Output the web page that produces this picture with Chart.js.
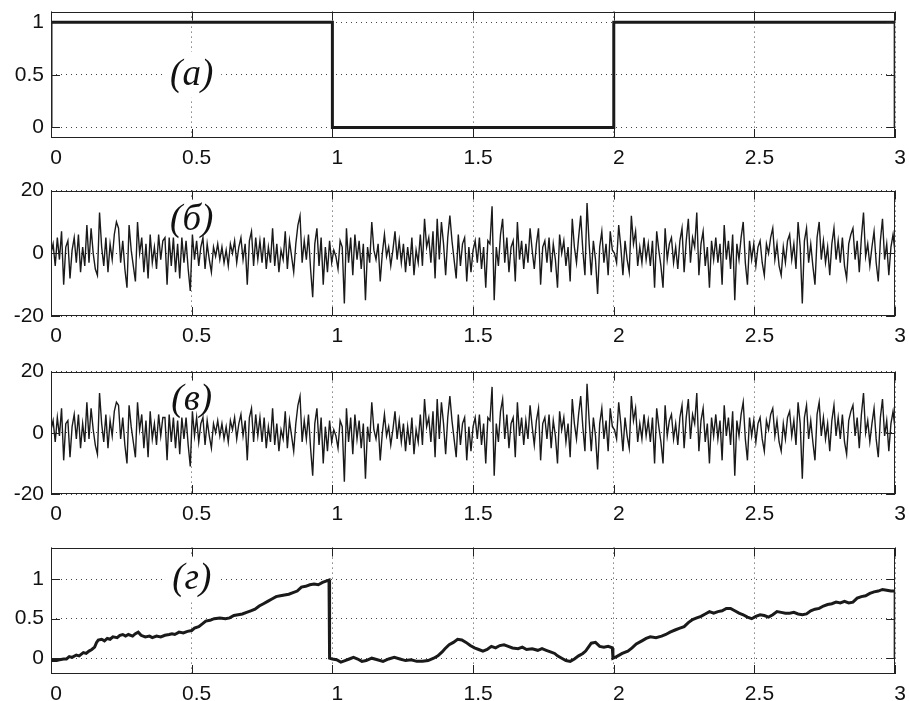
<!DOCTYPE html>
<html>
<head>
<meta charset="utf-8">
<script src="https://cdn.jsdelivr.net/npm/chart.js@4.4.1/dist/chart.umd.min.js"></script>
<style>
  body { margin: 0; background: #fff; }
  #wrap { position: relative; width: 909px; height: 701px; overflow: hidden; background: #fff; }
  #wrap canvas { position: absolute; left: 0; }
</style>
</head>
<body>
<div id="wrap">
  <canvas id="pa"></canvas>
  <canvas id="pb"></canvas>
  <canvas id="pv"></canvas>
  <canvas id="pg"></canvas>
</div>
<script>
// x ticks shared by all panels
const timeTicks = [0, 0.5, 1, 1.5, 2, 2.5, 3];

// (а) control signal
const squareT = [0, 0, 1, 1, 2, 2, 3, 3];
const squareV = [0, 1, 1, 0, 0, 1, 1, 0];
const ticksA = [0, 0.5, 1];

// (б) noise, equally spaced samples over 0..3
const noiseB = [
  0, 3, -4, 5, -2, 7, -10, 2, 4, -8, 1, 5, -3, 6, -6, 2, -4, 9, -3, 8,
  0, -5, -7, 13, 2, -4, 5, -6, 3, -2, 6, 10, 8, -3, 4, -5, -11, 9, 1, -4,
  -9, 10, 0, 5, -6, 3, -8, 6, -3, 2, -5, 6, -2, 4, 5, -10, 5, -4, 5, -6,
  3, -8, 5, -3, 4, -5, -12, 6, -2, 4, -4, 2, 5, -5, 3, -2, -6, 2, -1, 3,
  -2, 2, -3, 1, -4, 3, 0, 4, -3, 2, 5, -2, 3, -10, 4, 7, -4, 5, -2, 4,
  -3, 5, -5, 2, -3, 8, -4, 3, -6, 1, -2, 7, -5, 4, -1, -6, 3, 9, 12, -3,
  4, -2, 6, -5, -14, 3, 8, -4, 5, -10, 2, -6, 4, -3, 1, -1, -5, 4, 2, -16,
  8, -3, 5, -7, 6, -2, 4, -5, 3, -15, 2, -3, 10, 1, -2, 3, -9, 0, 6, -1,
  2, -4, 1, 7, -2, 4, -3, 3, -6, 2, -4, 5, -7, 1, -3, 6, -4, 11, 2, 5,
  -3, 7, -8, 11, -2, 10, 3, -7, 5, 12, 4, -2, -8, 6, -4, 3, 5, -9, 2, -6,
  1, 4, -3, 5, -5, 2, -11, 4, 3, 15, -15, 2, -4, 6, 11, -3, 5, -6, 2, 4,
  -9, 10, -2, 4, -5, 3, -3, 8, 1, -5, 3, 8, -10, 2, 4, -3, 5, -6, 3, -2,
  -11, 6, 0, 4, -4, 2, -9, 11, 2, -3, 5, 12, 1, -7, 16, 3, -7, 4, -2, -13,
  2, 7, -3, 3, -7, 7, 1, 0, -3, 9, 2, -7, 4, -2, -6, 12, 3, 7, -4, 2,
  -3, 5, -2, 3, -4, 4, -11, 7, 1, -4, -11, 8, -2, 3, 5, -3, 2, -5, 4, 8,
  -6, 4, 11, -3, 5, 2, 13, -7, 3, 7, -4, 2, -11, 4, -2, 5, -3, 3, -10, 9,
  -2, 4, -5, 6, -15, 3, -2, 5, 10, -3, -10, 4, -2, 3, -4, 2, 4, -3, -7, 3,
  0, 5, 8, -2, 3, -4, -7, 2, -3, 4, 6, -2, 3, -5, 10, 2, -16, 4, 8, -3,
  3, -4, -10, 5, 10, -2, 4, -3, 2, -7, 3, 8, -2, 4, -3, 5, -4, -8, 3, 6,
  8, -2, 4, -6, 5, 13, -1, 3, -4, 2, 7, -3, -9, 4, 11, -2, 3, -7, 2, 6,
  0
];

// (в) signal plus noise
const noiseV = [
  1, 4, -3, 5, -1, 8, -9, 3, 4, -8, 2, 6, -2, 6, -5, 3, -3, 10, -2, 8,
  1, -4, -7, 13, 3, -3, 6, -5, 4, -1, 7, 10, 9, -2, 5, -4, -10, 9, 2, -3,
  -8, 10, 1, 6, -5, 4, -8, 7, -2, 3, -4, 6, -1, 5, 5, -9, 6, -3, 5, -5,
  4, -7, 5, -2, 5, -4, -11, 7, -1, 5, -3, 3, 5, -4, 4, -1, -5, 3, 0, 4,
  -1, 3, -2, 2, -3, 4, 1, 5, -2, 3, 6, -1, 4, -9, 5, 8, -3, 6, -1, 5,
  -3, 5, -5, 2, -3, 8, -4, 3, -6, 1, -2, 7, -5, 4, -1, -6, 3, 9, 12, -3,
  4, -2, 6, -5, -14, 3, 8, -4, 5, -10, 2, -6, 4, -3, 1, -1, -5, 4, 2, -16,
  8, -3, 5, -7, 6, -2, 4, -5, 3, -15, 2, -3, 10, 1, -2, 3, -9, 0, 6, -1,
  2, -4, 1, 7, -2, 4, -3, 3, -6, 2, -4, 5, -7, 1, -3, 6, -4, 11, 2, 5,
  -3, 7, -8, 11, -2, 10, 3, -7, 5, 12, 4, -2, -8, 6, -4, 3, 5, -9, 2, -6,
  2, 5, -2, 6, -4, 3, -10, 5, 4, 15, -14, 3, -3, 7, 11, -2, 6, -5, 3, 5,
  -8, 10, -1, 5, -4, 4, -2, 9, 2, -4, 4, 8, -9, 3, 5, -2, 6, -5, 4, -1,
  -10, 7, 1, 5, -3, 3, -8, 11, 3, -2, 6, 12, 2, -6, 16, 4, -6, 5, -1, -12,
  3, 8, -2, 4, -6, 8, 2, 1, -2, 10, 3, -6, 5, -1, -5, 12, 4, 8, -3, 3,
  -2, 6, -1, 4, -3, 5, -10, 8, 2, -3, -10, 9, -1, 4, 6, -2, 3, -4, 5, 9,
  -5, 5, 11, -2, 6, 3, 13, -6, 4, 8, -3, 3, -10, 5, -1, 6, -2, 4, -9, 9,
  -1, 5, -4, 7, -14, 4, -1, 6, 10, -2, -9, 5, -1, 4, -3, 3, 5, -2, -6, 4,
  1, 6, 8, -1, 4, -3, -6, 3, -2, 5, 7, -1, 4, -4, 10, 3, -15, 5, 9, -2,
  4, -3, -9, 6, 10, -1, 5, -2, 3, -6, 4, 9, -1, 5, -2, 6, -3, -7, 4, 7,
  9, -1, 5, -5, 6, 13, 0, 4, -3, 3, 8, -2, -8, 5, 11, -1, 4, -6, 3, 7,
  1
];
const ticksNoise = [-20, 0, 20];

// (г) estimate
const estT = [
  0, 0.02, 0.03, 0.045, 0.055, 0.065, 0.075, 0.09, 0.1, 0.115, 0.125, 0.135, 0.145, 0.155, 0.162, 0.168,
  0.18, 0.19, 0.2, 0.21, 0.22, 0.235, 0.245, 0.255, 0.265, 0.275, 0.29, 0.3, 0.31, 0.32, 0.335, 0.35,
  0.36, 0.375, 0.39, 0.405, 0.42, 0.43, 0.44, 0.455, 0.47, 0.485, 0.5, 0.51, 0.525, 0.54, 0.55, 0.565,
  0.58, 0.6, 0.62, 0.635, 0.65, 0.665, 0.68, 0.695, 0.71, 0.725, 0.74, 0.755, 0.77, 0.785, 0.8, 0.815,
  0.83, 0.845, 0.86, 0.875, 0.89, 0.905, 0.92, 0.935, 0.95, 0.965, 0.98, 0.988, 0.99, 1.0, 1.015, 1.03,
  1.045, 1.06, 1.075, 1.09, 1.105, 1.12, 1.14, 1.16, 1.18, 1.2, 1.22, 1.24, 1.26, 1.28, 1.3, 1.32,
  1.34, 1.36, 1.375, 1.39, 1.4, 1.415, 1.43, 1.445, 1.46, 1.475, 1.49, 1.505, 1.52, 1.535, 1.55, 1.565,
  1.58, 1.595, 1.61, 1.625, 1.64, 1.66, 1.675, 1.69, 1.71, 1.73, 1.745, 1.76, 1.775, 1.79, 1.8, 1.815,
  1.83, 1.845, 1.86, 1.875, 1.89, 1.9, 1.91, 1.92, 1.935, 1.95, 1.965, 1.98, 1.995, 1.997, 2.01, 2.03,
  2.05, 2.065, 2.08, 2.1, 2.115, 2.13, 2.15, 2.17, 2.185, 2.2, 2.22, 2.235, 2.25, 2.265, 2.28, 2.295,
  2.31, 2.325, 2.34, 2.355, 2.37, 2.385, 2.4, 2.415, 2.43, 2.445, 2.46, 2.475, 2.49, 2.505, 2.52, 2.535,
  2.55, 2.565, 2.58, 2.595, 2.61, 2.625, 2.64, 2.655, 2.67, 2.685, 2.7, 2.715, 2.73, 2.745, 2.76, 2.775,
  2.79, 2.805, 2.82, 2.835, 2.85, 2.865, 2.88, 2.895, 2.91, 2.925, 2.94, 2.955, 2.97, 2.985, 3.0, 3.0
];
const estV = [
  -0.03, -0.03, -0.02, -0.01, -0.01, 0.02, 0.01, 0.04, 0.03, 0.07, 0.06, 0.09, 0.11, 0.14, 0.2, 0.23,
  0.24, 0.22, 0.25, 0.24, 0.27, 0.26, 0.29, 0.3, 0.28, 0.3, 0.28, 0.31, 0.33, 0.29, 0.27, 0.28,
  0.26, 0.28, 0.27, 0.29, 0.3, 0.31, 0.3, 0.33, 0.32, 0.34, 0.35, 0.38, 0.4, 0.44, 0.47, 0.48,
  0.5, 0.51, 0.5, 0.51, 0.54, 0.55, 0.56, 0.58, 0.6, 0.62, 0.66, 0.69, 0.72, 0.75, 0.78, 0.79,
  0.8, 0.81, 0.83, 0.85, 0.9, 0.91, 0.93, 0.94, 0.93, 0.96, 0.98, 0.99, 0.0, -0.01, -0.02, -0.05,
  -0.03, -0.01, 0.01, -0.01, -0.04, -0.03, 0.0, -0.02, -0.04, -0.01, 0.01, -0.01, -0.03, -0.02, -0.04, -0.04,
  -0.03, 0.0, 0.03, 0.08, 0.12, 0.17, 0.2, 0.24, 0.23, 0.2, 0.16, 0.13, 0.11, 0.09, 0.11, 0.15,
  0.13, 0.16, 0.17, 0.15, 0.13, 0.12, 0.14, 0.11, 0.12, 0.1, 0.12, 0.1, 0.08, 0.06, 0.03, 0.0,
  -0.03, -0.04, -0.01, 0.03, 0.06, 0.09, 0.14, 0.19, 0.2, 0.15, 0.14, 0.15, 0.13, 0.0, 0.02, 0.06,
  0.09, 0.13, 0.18, 0.22, 0.25, 0.27, 0.26, 0.28, 0.3, 0.33, 0.36, 0.38, 0.4, 0.45, 0.49, 0.51,
  0.53, 0.56, 0.59, 0.57, 0.59, 0.6, 0.63, 0.63, 0.6, 0.57, 0.55, 0.52, 0.5, 0.53, 0.55, 0.54,
  0.52, 0.55, 0.59, 0.58, 0.57, 0.57, 0.58, 0.56, 0.55, 0.56, 0.6, 0.62, 0.63, 0.66, 0.68, 0.69,
  0.71, 0.7, 0.72, 0.7, 0.71, 0.76, 0.78, 0.79, 0.82, 0.84, 0.85, 0.87, 0.86, 0.85, 0.85, 0.0
];
const ticksEst = [0, 0.5, 1];

const panelLabels = ['(а)', '(б)', '(в)', '(г)'];

const textFont = '"Liberation Sans", Arial, sans-serif';
const padTop = 16;
const axisH = 34;

// frame, inside ticks and the panel label
const framePlugin = {
  id: 'frame',
  beforeDatasetsDraw(chart, args, opts) {
    const {ctx, scales: {x, y}} = chart;
    const px = x.getPixelForValue(opts.lx);
    const py = y.getPixelForValue(opts.ly);
    ctx.save();
    ctx.font = 'italic 37px "Liberation Serif", "Times New Roman", serif';
    const w = ctx.measureText(opts.text).width;
    ctx.fillStyle = '#fff';
    ctx.fillRect(px - w / 2 - 8, py - 23, w + 16, 46);
    ctx.fillStyle = '#111';
    ctx.textAlign = 'center';
    ctx.textBaseline = 'middle';
    ctx.fillText(opts.text, px, py);
    ctx.restore();
  },
  afterDatasetsDraw(chart) {
    const {ctx, chartArea: a, scales: {x, y}} = chart;
    const tl = 9;
    ctx.save();
    ctx.strokeStyle = '#222';
    ctx.lineWidth = 1;
    ctx.beginPath();
    x.ticks.forEach(t => {
      const p = Math.round(x.getPixelForValue(t.value)) + 0.5;
      ctx.moveTo(p, a.bottom); ctx.lineTo(p, a.bottom - tl);
      ctx.moveTo(p, a.top); ctx.lineTo(p, a.top + tl);
    });
    y.ticks.forEach(t => {
      const p = Math.round(y.getPixelForValue(t.value)) + 0.5;
      ctx.moveTo(a.left, p); ctx.lineTo(a.left + tl, p);
      ctx.moveTo(a.right, p); ctx.lineTo(a.right - tl, p);
    });
    ctx.stroke();
    ctx.strokeRect(Math.round(a.left) + 0.5, Math.round(a.top) + 0.5,
      Math.round(a.width) - 1, Math.round(a.height) - 1);
    ctx.restore();
  }
};

function makePanel(id, plotTop, plotBottom, points, yMin, yMax, yTicks, lineW, label, labelY) {
  const cv = document.getElementById(id);
  const h = padTop + (plotBottom - plotTop) + axisH;
  cv.width = 909;
  cv.height = h;
  cv.style.top = (plotTop - padTop) + 'px';
  return new Chart(cv, {
    type: 'line',
    data: {
      datasets: [{
        data: points,
        borderColor: '#1a1a1a',
        borderWidth: lineW,
        pointRadius: 0,
        tension: 0,
        fill: false
      }]
    },
    options: {
      responsive: false,
      animation: false,
      events: [],
      layout: { padding: { top: padTop, right: 12.5, bottom: 0, left: 0 } },
      plugins: {
        legend: { display: false },
        tooltip: { enabled: false },
        frame: { text: label, lx: 0.5, ly: labelY }
      },
      scales: {
        x: {
          type: 'linear',
          min: 0,
          max: 3,
          afterBuildTicks: s => { s.ticks = timeTicks.map(v => ({ value: v })); },
          afterFit: s => { s.height = axisH; },
          grid: { color: '#444', lineWidth: 1, drawTicks: false },
          border: { display: false, dash: [1, 4] },
          ticks: {
            font: { family: textFont, size: 21 },
            color: '#111',
            padding: 8,
            labelOffset: 5,
            maxRotation: 0,
            autoSkip: false,
            callback: v => String(v)
          }
        },
        y: {
          type: 'linear',
          min: yMin,
          max: yMax,
          afterBuildTicks: s => { s.ticks = yTicks.map(v => ({ value: v })); },
          afterFit: s => { s.width = 51; },
          grid: { color: '#444', lineWidth: 1, drawTicks: false },
          border: { display: false, dash: [1, 4] },
          ticks: {
            font: { family: textFont, size: 21 },
            color: '#111',
            padding: 7,
            callback: v => String(v)
          }
        }
      }
    },
    plugins: [framePlugin]
  });
}

const squarePts = squareT.map((t, i) => ({ x: t, y: squareV[i] }));
const dtB = 3 / (noiseB.length - 1);
const noiseBPts = noiseB.map((v, i) => ({ x: i * dtB, y: v }));
const dtV = 3 / (noiseV.length - 1);
const noiseVPts = noiseV.map((v, i) => ({ x: i * dtV, y: v }));
const estPts = estT.map((t, i) => ({ x: t, y: estV[i] }));

makePanel('pa', 8, 138, squarePts, -0.1, 1.1, ticksA, 3, panelLabels[0], 0.5);
makePanel('pb', 187, 316, noiseBPts, -20, 20, ticksNoise, 1.4, panelLabels[1], 10.5);
makePanel('pv', 368, 494, noiseVPts, -20, 20, ticksNoise, 1.4, panelLabels[2], 10.5);
makePanel('pg', 544, 674, estPts, -0.2, 1.4, ticksEst, 3, panelLabels[3], 1.0);
</script>
</body>
</html>
